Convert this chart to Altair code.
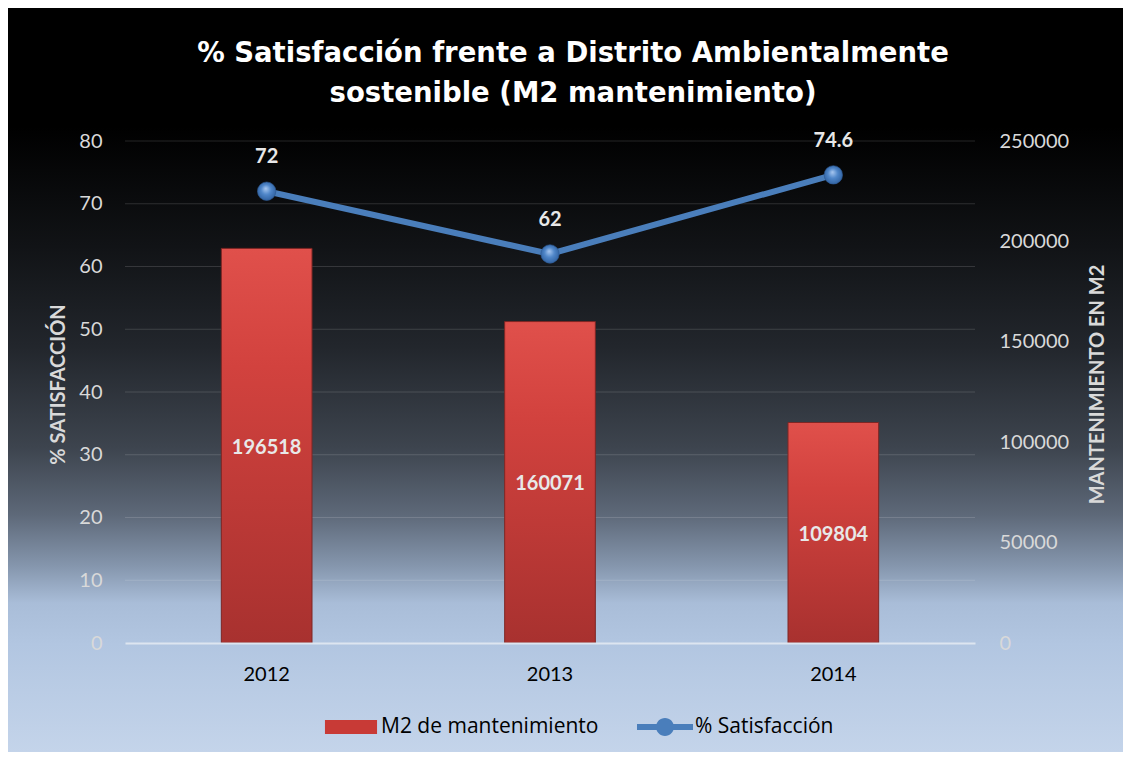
import altair as alt
import pandas as pd

# ---- data ----
years = ["2012", "2013", "2014"]
m2_values = [196518, 160071, 109804]
satisfaction = [72, 62, 74.6]
satisfaction_labels = ["72", "62", "74.6"]
left_ticks = [0, 10, 20, 30, 40, 50, 60, 70, 80]
right_ticks = [0, 50000, 100000, 150000, 200000, 250000]
grid_values = [10, 20, 30, 40, 50, 60, 70, 80]
legend_labels = ["M2 de mantenimiento", "% Satisfacción"]
title_lines = ["% Satisfacción frente a Distrito Ambientalmente",
               "sostenible (M2 mantenimiento)"]
left_title = "% SATISFACCIÓN"
right_title = "MANTENIMIENTO EN M2"

df = pd.DataFrame({"year": years, "m2": m2_values, "sat": satisfaction,
                   "sat_label": satisfaction_labels})
grid_df = pd.DataFrame({"g": grid_values})
legend_df = pd.DataFrame({"serie": legend_labels})

# ---- layout / style ----
W, H = 850, 502
PL, PT, PR, PB = 117, 133, 148, 109
FONT = "Lato"
LABEL_COL = "#d9d9d9"
RED = "#c83a36"
BLUE = "#4a7ebb"

bg_gradient = alt.LinearGradient(
    gradient="linear", x1=0, x2=0, y1=0, y2=1,
    stops=[
        alt.GradientStop(color="#000000", offset=0.0),
        alt.GradientStop(color="#000000", offset=0.16),
        alt.GradientStop(color="#111316", offset=0.32),
        alt.GradientStop(color="#22262c", offset=0.455),
        alt.GradientStop(color="#3d444e", offset=0.59),
        alt.GradientStop(color="#5d6878", offset=0.68),
        alt.GradientStop(color="#8596ad", offset=0.75),
        alt.GradientStop(color="#a9bdd8", offset=0.80),
        alt.GradientStop(color="#b2c6e1", offset=0.855),
        alt.GradientStop(color="#c4d4ea", offset=1.0),
    ])

bar_gradient = alt.LinearGradient(
    gradient="linear", x1=0, x2=0, y1=0, y2=1,
    stops=[
        alt.GradientStop(color="#e0504b", offset=0.0),
        alt.GradientStop(color="#d2423e", offset=0.3),
        alt.GradientStop(color="#a8312f", offset=1.0),
    ])

sphere_gradient = alt.RadialGradient(
    gradient="radial", x1=0.45, y1=0.35, r1=0.0, x2=0.5, y2=0.5, r2=0.6,
    stops=[
        alt.GradientStop(color="#a9c8f0", offset=0.0),
        alt.GradientStop(color="#4f86c9", offset=0.45),
        alt.GradientStop(color="#2a5a98", offset=1.0),
    ])

left_scale = alt.Scale(domain=[0, 80], nice=False, zero=True)
right_scale = alt.Scale(domain=[0, 250000], nice=False, zero=True)
x_scale = alt.Scale(paddingInner=0.68, paddingOuter=0.34)

x_axis = alt.Axis(title=None, labelColor="#000000", labelFont=FONT, labelFontSize=20,
                  labelAngle=0, ticks=False, tickSize=0, labelPadding=31,
                  labelBaseline="middle", domainColor="#dde5f0", domainWidth=2,
                  grid=False, zindex=2)
X = alt.X("year:N", scale=x_scale, axis=x_axis, sort=years)

left_axis = alt.Axis(orient="left", values=left_ticks, title=left_title, grid=False,
                     domain=False, ticks=False, tickSize=0, labelPadding=23,
                     labelColor=LABEL_COL, labelFont=FONT, labelFontSize=20,
                     titleColor=LABEL_COL, titleFont=FONT, titleFontSize=20,
                     titleFontWeight="bold", titleAngle=270, titleX=-67, titleY=243,
                     titleAlign="center", titleBaseline="middle", zindex=2)
right_axis = alt.Axis(orient="right", values=right_ticks, title=right_title, grid=False,
                      domain=False, ticks=False, tickSize=0, labelPadding=24, format="d",
                      labelColor=LABEL_COL, labelFont=FONT, labelFontSize=20,
                      titleColor=LABEL_COL, titleFont=FONT, titleFontSize=20,
                      titleFontWeight="bold", titleAngle=270, titleX=122, titleY=243,
                      titleAlign="center", titleBaseline="middle", zindex=2)

bg = alt.Chart(alt.Data(values=[{"k": 1}])).mark_rect(color=bg_gradient).encode(
    x=alt.value(-PL), x2=alt.value(W + PR), y=alt.value(-PT), y2=alt.value(H + PB))

grid = alt.Chart(grid_df).mark_rule(color="#ffffff", opacity=0.14, strokeWidth=1.2).encode(
    y=alt.Y("g:Q", scale=left_scale, axis=None))

bars = alt.Chart(df).mark_bar(color=bar_gradient, stroke="#7e2624", strokeWidth=1).encode(
    x=X, y=alt.Y("m2:Q", scale=right_scale, axis=right_axis))

bar_text = alt.Chart(df).transform_calculate(mid="datum.m2 / 2").mark_text(
    font=FONT, fontSize=20, fontWeight="bold", color="#e8e8e8", baseline="middle", dy=2
).encode(x=X, y=alt.Y("mid:Q", scale=right_scale, axis=None), text="m2:Q")

line = alt.Chart(df).mark_line(color=BLUE, strokeWidth=6).encode(
    x=X, y=alt.Y("sat:Q", scale=left_scale, axis=left_axis))

points = alt.Chart(df).mark_circle(color=sphere_gradient, opacity=1, size=340,
                                   stroke="#2b5790", strokeWidth=0.6).encode(
    x=X, y=alt.Y("sat:Q", scale=left_scale, axis=None))

point_text = alt.Chart(df).mark_text(
    font=FONT, fontSize=20, fontWeight="bold", color="#e8e8e8", baseline="middle", dy=-34
).encode(x=X, y=alt.Y("sat:Q", scale=left_scale, axis=None), text="sat_label:N")

rect_path = "M-0.93,-0.25H0.93V0.25H-0.93Z"
line_path = "M-1,-0.11H1V0.11H-1Z M0.32,0A0.32,0.32 0 1,1 -0.32,0A0.32,0.32 0 1,1 0.32,0Z"
leg = alt.Legend(title=None, orient="none", legendX=198, legendY=558,
                 direction="horizontal", labelFont="Open Sans", labelFontSize=21,
                 labelColor="#000000", symbolSize=3136, symbolStrokeWidth=0,
                 symbolOpacity=1, labelOffset=2, columnPadding=38, padding=0,
                 labelLimit=0)
legend_layer = alt.Chart(legend_df).mark_point(filled=True, opacity=0).encode(
    color=alt.Color("serie:N", scale=alt.Scale(domain=legend_labels, range=[RED, BLUE]),
                    legend=leg),
    shape=alt.Shape("serie:N", scale=alt.Scale(domain=legend_labels,
                                               range=[rect_path, line_path]),
                    legend=leg),
)

chart = alt.layer(bg, grid, bars, bar_text, line, points, point_text, legend_layer).resolve_scale(
    y="independent"
).properties(
    width=W, height=H,
    title=alt.TitleParams(text=title_lines, font="DejaVu Sans", fontSize=27.5,
                          fontWeight="bold", color="#ffffff", lineHeight=40,
                          anchor="middle", offset=0, dx=23, dy=127, baseline="bottom"),
    autosize=alt.AutoSizeParams(type="none"),
    padding={"left": PL, "top": PT, "right": PR, "bottom": PB},
).configure_view(stroke=None).configure(background="#ffffff")

chart.save("out.html", embed_options={"renderer": "svg", "actions": False})
